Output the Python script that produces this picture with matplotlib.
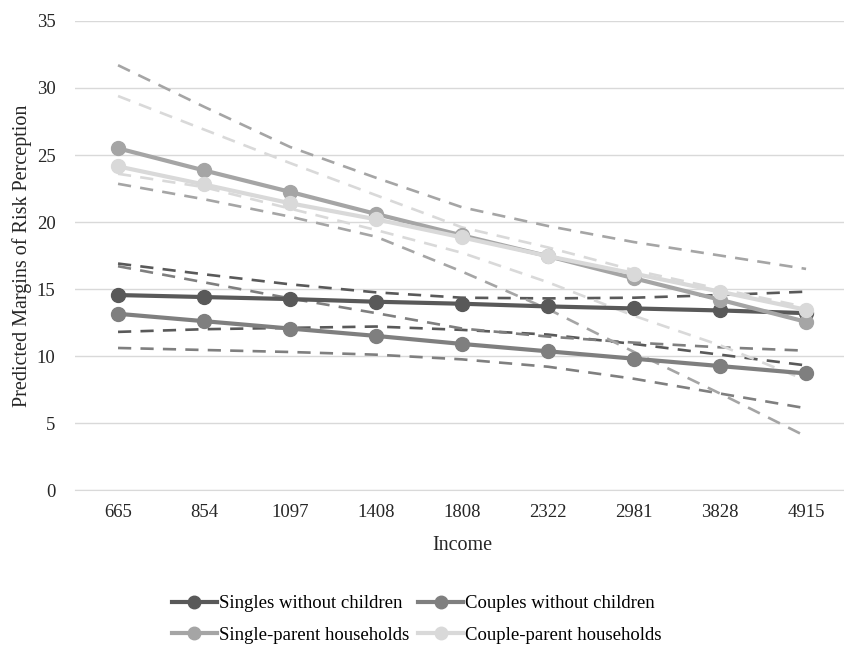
import matplotlib.pyplot as plt

plt.rcParams["font.family"] = ["Liberation Serif", "DejaVu Serif"]

income = ["665", "854", "1097", "1408", "1808", "2322", "2981", "3828", "4915"]

singles = [14.55, 14.4, 14.25, 14.05, 13.9, 13.7, 13.55, 13.4, 13.2]
couples = [13.15, 12.6, 12.05, 11.5, 10.9, 10.35, 9.8, 9.25, 8.7]
single_parent = [25.5, 23.85, 22.25, 20.6, 19.0, 17.45, 15.8, 14.2, 12.55]
couple_parent = [24.15, 22.8, 21.4, 20.2, 18.85, 17.45, 16.15, 14.8, 13.45]

singles_hi = [16.9, 16.1, 15.35, 14.75, 14.35, 14.3, 14.35, 14.55, 14.8]
singles_lo = [11.8, 12.0, 12.1, 12.2, 11.95, 11.6, 10.9, 10.1, 9.3]
couples_hi = [16.7, 15.5, 14.3, 13.2, 12.05, 11.45, 11.0, 10.65, 10.4]
couples_lo = [10.6, 10.45, 10.3, 10.1, 9.75, 9.2, 8.3, 7.2, 6.1]
single_parent_hi = [31.7, 28.6, 25.6, 23.3, 21.1, 19.7, 18.5, 17.5, 16.5]
single_parent_lo = [22.85, 21.7, 20.4, 18.9, 16.3, 13.5, 10.3, 7.2, 4.0]
couple_parent_hi = [29.4, 26.9, 24.4, 22.0, 19.6, 18.1, 16.4, 15.0, 13.65]
couple_parent_lo = [23.6, 22.6, 21.0, 19.4, 17.7, 15.5, 13.0, 10.8, 8.2]

labels = ["Singles without children", "Couples without children",
          "Single-parent households", "Couple-parent households"]
colors = ["#595959", "#7f7f7f", "#a5a5a5", "#d9d9d9"]

FS = 13.5
TXT = "#262626"

fig = plt.figure(figsize=(8.45, 6.48), dpi=100)
ax = fig.add_axes([0.0888, 0.2438, 0.916, 0.7238])

x = list(range(len(income)))

# confidence bounds first so the solid lines sit on top
bounds = [(singles_hi, singles_lo), (couples_hi, couples_lo),
          (single_parent_hi, single_parent_lo), (couple_parent_hi, couple_parent_lo)]
for (hi, lo), c in zip(bounds, colors):
    for b in (hi, lo):
        ax.plot(x, b, color=c, lw=1.9, linestyle=(0, (5, 3.5)), zorder=2)

series = [singles, couples, single_parent, couple_parent]
handles = []
for vals, c, lab in zip(series, colors, labels):
    h, = ax.plot(x, vals, color=c, lw=3, marker="o", markersize=10, label=lab, zorder=3)
    handles.append(h)

ax.set_xlim(-0.5, len(income) - 0.5)
ax.set_ylim(0, 35)
ax.set_yticks(range(0, 36, 5))
ax.set_xticks(x)
ax.set_xticklabels(income)

ax.grid(axis="y", color="#d9d9d9", lw=1)
ax.set_axisbelow(True)
for side in ("top", "right", "left"):
    ax.spines[side].set_visible(False)
ax.spines["bottom"].set_color("#d9d9d9")
ax.tick_params(length=0, labelsize=FS, colors=TXT)
ax.tick_params(axis="x", pad=10)
ax.tick_params(axis="y", pad=14)

ax.set_xlabel("Income", fontsize=14.5, color=TXT)
ax.set_ylabel("Predicted Margins of Risk Perception", fontsize=14.5, color=TXT)
ax.xaxis.set_label_coords(0.5, -0.097)
ax.yaxis.set_label_coords(-0.0556, 0.5)

# legend is filled row by row in the reference
order = [0, 2, 1, 3]
fig.legend([handles[i] for i in order], [labels[i] for i in order],
           loc="center", bbox_to_anchor=(0.493, 0.044), ncol=2, frameon=False,
           fontsize=FS, handlelength=2.4, handletextpad=0.1, columnspacing=0.5,
           labelspacing=0.75, markerscale=0.9)

fig.savefig("out.png", dpi=100)
